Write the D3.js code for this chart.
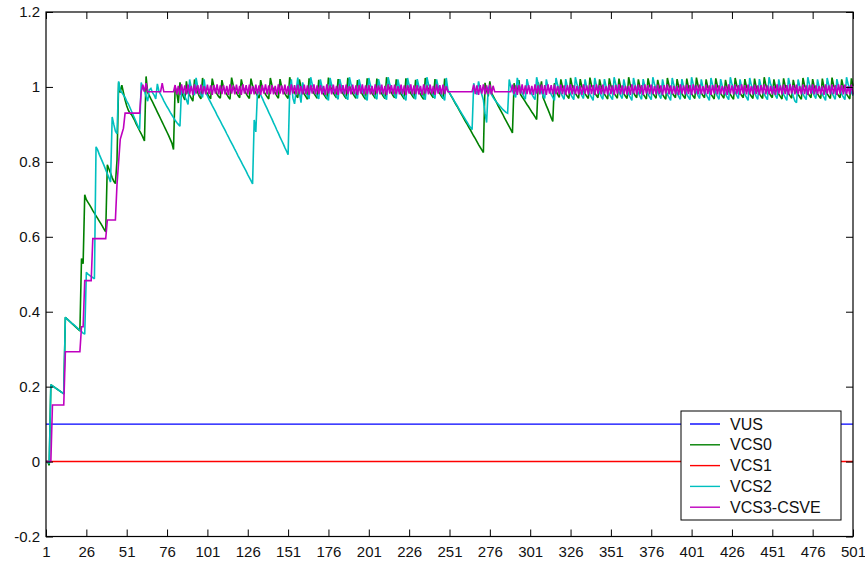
<!DOCTYPE html>
<html>
<head>
<meta charset="utf-8">
<script src="https://cdn.jsdelivr.net/npm/d3@7"></script>
<style>
  html, body { margin: 0; padding: 0; background: #fff; }
  svg text { font-family: "Liberation Sans", Arial, sans-serif; fill: #111; }
</style>
</head>
<body>
<svg id="chart" width="865" height="563"></svg>
<script>
// ---- data -------------------------------------------------------------
const seriesNames  = ["VUS", "VCS0", "VCS1", "VCS2", "VCS3-CSVE"];
const seriesColors = ["#0000ff", "#008000", "#ff0000", "#00bfbf", "#bf00bf"];

const xTickValues = [1, 26, 51, 76, 101, 126, 151, 176, 201, 226, 251, 276, 301, 326, 351, 376, 401, 426, 451, 476, 501];
const xTickLabels = ["1", "26", "51", "76", "101", "126", "151", "176", "201", "226", "251", "276", "301", "326", "351", "376", "401", "426", "451", "476", "501"];
const yTickValues = [-0.2, 0, 0.2, 0.4, 0.6, 0.8, 1, 1.2];
const yTickLabels = ["-0.2", "0", "0.2", "0.4", "0.6", "0.8", "1", "1.2"];

// constant series: first and last sample
const vusX  = [1, 501];
const vusY  = [0.1, 0.1];
const vcs1X = [1, 501];
const vcs1Y = [0, 0];

// sampled series, one value per sample index 1..501
const vcs0 = [
  0, 0, -0.01, 0.205, 0.202, 0.199, 0.196, 0.193, 0.19, 0.187,
  0.184, 0.181, 0.385, 0.381, 0.377, 0.373, 0.369, 0.365, 0.361, 0.357,
  0.353, 0.349, 0.542, 0.528, 0.712, 0.699, 0.692, 0.685, 0.678, 0.67,
  0.663, 0.656, 0.649, 0.642, 0.635, 0.628, 0.62, 0.613, 0.792, 0.781,
  0.77, 0.758, 0.748, 0.742, 0.805, 1.012, 0.985, 1.005, 0.985, 0.965,
  0.95, 0.938, 0.93, 0.926, 0.918, 0.91, 0.9, 0.892, 0.883, 0.875,
  0.866, 0.856, 1.028, 0.985, 0.977, 0.968, 0.96, 0.951, 0.942, 0.933,
  0.924, 0.915, 0.906, 0.897, 0.888, 0.879, 0.87, 0.86, 0.85, 0.833,
  1.0, 0.985, 0.957, 1.012, 0.99, 0.975, 0.965, 1.015, 0.984, 0.978,
  0.97, 0.962, 1.02, 0.998, 0.985, 0.975, 0.968, 1.024, 1.0, 0.99,
  0.982, 0.975, 0.968, 1.022, 1.002, 0.99, 0.981, 0.974, 0.97, 1.018,
  0.998, 0.988, 0.98, 0.973, 0.967, 1.025, 1.004, 0.992, 0.984, 0.977,
  0.971, 1.02, 1.0, 0.99, 0.982, 0.975, 0.969, 1.022, 1.003, 0.993,
  0.984, 0.977, 0.97, 1.018, 0.998, 0.988, 0.98, 0.974, 0.968, 1.024,
  1.004, 0.992, 0.984, 0.976, 0.97, 1.021, 1.0, 0.99, 0.982, 0.975,
  0.969, 1.026, 1.005, 0.993, 0.985, 0.977, 0.971, 1.02, 1.0, 0.99,
  0.981, 0.974, 0.967, 1.023, 1.003, 0.992, 0.983, 0.976, 0.97, 1.019,
  0.999, 0.989, 0.981, 0.974, 0.968, 1.025, 1.004, 0.993, 0.984, 0.977,
  0.971, 1.021, 1.001, 0.99, 0.982, 0.975, 0.969, 1.024, 1.003, 0.992,
  0.983, 0.976, 0.97, 1.018, 0.999, 0.989, 0.98, 0.973, 0.967, 1.023,
  1.002, 0.991, 0.983, 0.976, 0.97, 1.022, 1.001, 0.99, 0.982, 0.975,
  0.969, 1.026, 1.005, 0.993, 0.985, 0.977, 0.971, 1.02, 1.0, 0.99,
  0.981, 0.974, 0.968, 1.023, 1.003, 0.992, 0.983, 0.976, 0.97, 1.019,
  0.999, 0.988, 0.98, 0.973, 0.967, 1.024, 1.004, 0.993, 0.984, 0.977,
  0.971, 1.021, 1.001, 0.99, 0.982, 0.975, 0.969, 1.022, 1.0, 0.99,
  0.984, 0.976, 0.969, 0.961, 0.953, 0.946, 0.938, 0.93, 0.923, 0.915,
  0.907, 0.9, 0.892, 0.885, 0.877, 0.869, 0.862, 0.854, 0.846, 0.839,
  0.832, 0.825, 1.011, 0.99, 0.975, 1.015, 0.984, 0.976, 0.968, 0.96,
  0.951, 0.943, 0.935, 0.927, 0.918, 0.91, 0.902, 0.894, 0.886, 0.877,
  1.01, 0.99, 0.985, 1.018, 0.98, 0.973, 0.967, 0.96, 0.953, 0.947,
  0.94, 0.933, 0.927, 0.92, 0.913, 1.012, 0.99, 1.015, 0.971, 0.961,
  0.95, 0.94, 0.929, 0.918, 0.908, 1.01, 0.99, 0.98, 0.972, 1.02,
  1.0, 0.99, 0.982, 0.975, 0.969, 1.024, 1.003, 0.992, 0.983, 0.976,
  0.97, 1.021, 1.001, 0.99, 0.982, 0.975, 0.969, 1.025, 1.004, 0.993,
  0.984, 0.977, 0.971, 1.02, 1.0, 0.99, 0.981, 0.974, 0.968, 1.023,
  1.003, 0.992, 0.983, 0.976, 0.97, 1.022, 1.001, 0.99, 0.982, 0.975,
  0.969, 1.026, 1.005, 0.993, 0.985, 0.977, 0.971, 1.02, 1.0, 0.99,
  0.981, 0.974, 0.968, 1.023, 1.003, 0.992, 0.983, 0.976, 0.97, 1.019,
  0.999, 0.988, 0.98, 0.973, 0.967, 1.024, 1.004, 0.993, 0.984, 0.977,
  0.971, 1.021, 1.001, 0.99, 0.982, 0.975, 0.969, 1.022, 1.0, 0.99,
  0.982, 0.975, 0.969, 1.025, 1.004, 0.993, 0.984, 0.977, 0.971, 1.02,
  1.0, 0.99, 0.981, 0.974, 0.968, 1.023, 1.003, 0.992, 0.983, 0.976,
  0.97, 1.019, 0.999, 0.988, 0.98, 0.973, 0.967, 1.024, 1.004, 0.993,
  0.984, 0.977, 0.971, 1.021, 1.001, 0.99, 0.982, 0.975, 0.969, 1.022,
  1.0, 0.99, 0.982, 0.975, 0.969, 1.026, 1.005, 0.993, 0.985, 0.977,
  0.971, 1.02, 1.0, 0.99, 0.981, 0.974, 0.968, 1.023, 1.003, 0.992,
  0.983, 0.976, 0.97, 1.019, 0.999, 0.988, 0.98, 0.973, 0.967, 1.024,
  1.004, 0.993, 0.984, 0.977, 0.971, 1.021, 1.001, 0.99, 0.982, 0.975,
  0.969, 1.022, 1.0, 0.99, 0.982, 0.975, 0.969, 1.025, 1.004, 0.993,
  0.984, 0.977, 0.971, 1.02, 1.0, 0.99, 0.981, 0.974, 0.968, 1.023,
  1.003
];

const vcs2 = [
  0, 0, -0.005, 0.205, 0.202, 0.199, 0.196, 0.193, 0.19, 0.187,
  0.184, 0.181, 0.385, 0.381, 0.377, 0.373, 0.369, 0.366, 0.362, 0.358,
  0.354, 0.35, 0.347, 0.343, 0.34, 0.505, 0.5, 0.497, 0.494, 0.491,
  0.488, 0.84, 0.832, 0.82, 0.81, 0.8, 0.79, 0.779, 0.768, 0.757,
  0.746, 0.92, 0.9, 0.882, 0.875, 1.015, 0.99, 0.985, 0.978, 0.972,
  0.962, 0.955, 0.945, 0.935, 0.925, 0.915, 0.905, 0.895, 0.886, 1.012,
  0.995, 0.99, 0.975, 0.962, 0.992, 0.996, 0.985, 0.978, 0.968, 1.008,
  0.988, 0.98, 0.972, 0.963, 0.955, 0.947, 0.94, 0.932, 0.925, 0.918,
  0.911, 0.905, 0.9, 0.895, 1.0, 0.985, 0.975, 0.965, 0.953, 1.02,
  0.998, 0.988, 0.978, 1.024, 1.0, 0.99, 0.98, 0.972, 1.02, 0.984,
  0.976, 0.967, 0.959, 0.95, 0.942, 0.934, 0.925, 0.917, 0.909, 0.9,
  0.892, 0.884, 0.875, 0.867, 0.858, 0.85, 0.842, 0.833, 0.825, 0.816,
  0.808, 0.8, 0.791, 0.783, 0.775, 0.766, 0.758, 0.75, 0.741, 0.912,
  0.88, 0.985, 0.988, 0.979, 0.97, 0.96, 0.951, 0.942, 0.932, 0.923,
  0.914, 0.904, 0.895, 0.885, 0.876, 0.866, 0.857, 0.848, 0.838, 0.829,
  0.819, 0.99, 1.02, 0.97, 0.955, 0.99, 1.025, 0.985, 0.958, 1.012,
  0.995, 0.985, 0.976, 0.968, 1.026, 1.006, 0.995, 0.985, 0.976, 0.968,
  1.02, 1.0, 0.99, 0.98, 0.972, 0.964, 1.024, 1.005, 0.994, 0.984,
  0.975, 0.967, 1.021, 1.002, 0.991, 0.981, 0.973, 0.966, 1.026, 1.007,
  0.996, 0.986, 0.977, 0.969, 1.02, 1.0, 0.99, 0.98, 0.972, 0.964,
  1.024, 1.005, 0.994, 0.984, 0.975, 0.967, 1.021, 1.002, 0.991, 0.981,
  0.973, 0.966, 1.026, 1.007, 0.996, 0.986, 0.977, 0.969, 1.02, 1.0,
  0.99, 0.98, 0.972, 0.964, 1.024, 1.005, 0.994, 0.984, 0.975, 0.967,
  1.021, 1.002, 0.991, 0.981, 0.973, 0.966, 1.026, 1.007, 0.996, 0.986,
  0.977, 0.969, 1.02, 1.0, 0.99, 0.98, 0.972, 0.964, 1.024, 0.992,
  0.984, 0.977, 0.97, 0.962, 0.955, 0.948, 0.94, 0.933, 0.926, 0.919,
  0.912, 0.905, 0.898, 0.892, 0.886, 1.01, 0.99, 0.98, 1.015, 0.995,
  0.98, 0.965, 0.93, 0.905, 1.0, 0.99, 0.98, 0.972, 0.966, 0.96,
  0.955, 0.95, 0.945, 0.94, 0.936, 0.932, 0.93, 1.02, 1.0, 0.99,
  0.98, 0.972, 1.024, 1.005, 0.994, 0.984, 0.975, 0.967, 1.021, 1.002,
  0.991, 0.981, 0.973, 0.966, 1.026, 1.007, 0.996, 0.986, 0.977, 0.969,
  1.02, 1.0, 0.99, 0.98, 0.972, 0.964, 1.024, 1.005, 0.994, 0.984,
  0.975, 0.967, 1.021, 1.002, 0.991, 0.981, 0.973, 0.966, 1.026, 1.007,
  0.996, 0.986, 0.977, 0.969, 1.02, 1.0, 0.99, 0.98, 0.972, 0.964,
  1.024, 1.005, 0.994, 0.984, 0.975, 0.967, 1.021, 1.002, 0.991, 0.981,
  0.973, 0.966, 1.026, 1.007, 0.996, 0.986, 0.977, 0.969, 1.02, 1.0,
  0.99, 0.98, 0.972, 0.964, 1.024, 1.005, 0.994, 0.984, 0.975, 0.967,
  1.021, 1.002, 0.991, 0.981, 0.973, 0.966, 1.026, 1.007, 0.996, 0.986,
  0.977, 0.969, 1.02, 1.0, 0.99, 0.98, 0.972, 0.964, 1.024, 1.005,
  0.994, 0.984, 0.975, 0.967, 1.021, 1.002, 0.991, 0.981, 0.973, 0.966,
  1.026, 1.007, 0.996, 0.986, 0.977, 0.969, 1.02, 1.0, 0.99, 0.98,
  0.972, 0.964, 1.024, 1.005, 0.994, 0.984, 0.975, 0.967, 1.021, 1.002,
  0.991, 0.981, 0.973, 0.966, 1.026, 1.007, 0.996, 0.986, 0.977, 0.969,
  1.02, 1.0, 0.99, 0.98, 0.972, 0.964, 1.024, 1.005, 0.994, 0.984,
  0.975, 0.967, 1.021, 1.002, 0.991, 0.981, 0.973, 0.966, 1.026, 1.007,
  0.996, 0.986, 0.977, 0.969, 1.02, 1.0, 0.99, 0.98, 0.972, 0.964,
  1.024, 1.005, 0.99, 0.975, 0.962, 0.958, 1.02, 1.002, 0.991, 0.981,
  0.973, 0.966, 1.026, 1.007, 0.996, 0.986, 0.977, 0.969, 1.02, 1.0,
  0.99, 0.98, 0.972, 0.964, 1.024, 1.005, 0.994, 0.984, 0.975, 0.967,
  1.021, 1.002, 0.991, 0.981, 0.973, 0.966, 1.026, 1.007, 0.996, 0.986,
  0.977
];

const vcs3 = [
  0, 0, 0, 0, 0.151, 0.151, 0.151, 0.151, 0.151, 0.151,
  0.151, 0.151, 0.293, 0.293, 0.293, 0.293, 0.293, 0.293, 0.293, 0.293,
  0.293, 0.293, 0.36, 0.36, 0.483, 0.483, 0.483, 0.483, 0.483, 0.595,
  0.595, 0.595, 0.595, 0.595, 0.595, 0.595, 0.595, 0.595, 0.645, 0.645,
  0.645, 0.645, 0.645, 0.645, 0.74, 0.8, 0.86, 0.875, 0.89, 0.93,
  0.93, 0.93, 0.93, 0.93, 0.93, 0.93, 0.93, 0.93, 0.93, 0.987,
  1.006, 0.987, 1.01, 0.987, 0.987, 0.987, 0.987, 0.987, 0.987, 0.987,
  0.987, 0.987, 1.01, 0.987, 0.987, 0.987, 0.987, 0.987, 0.987, 0.987,
  1.005, 0.98, 1.003, 0.979, 1.007, 0.982, 1.004, 0.98, 1.006, 0.981,
  1.003, 0.979, 1.007, 0.982, 1.005, 0.98, 1.006, 0.981, 1.002, 0.98,
  1.006, 0.981, 1.004, 0.979, 1.005, 0.982, 1.007, 0.98, 1.004, 0.981,
  1.005, 0.98, 1.003, 0.979, 1.007, 0.982, 1.004, 0.98, 1.006, 0.981,
  1.003, 0.979, 1.007, 0.982, 1.005, 0.98, 1.006, 0.981, 1.002, 0.98,
  1.006, 0.981, 1.004, 0.979, 1.005, 0.982, 1.007, 0.98, 1.004, 0.981,
  1.005, 0.98, 1.003, 0.979, 1.007, 0.982, 1.004, 0.98, 1.006, 0.981,
  1.003, 0.979, 1.007, 0.982, 1.005, 0.98, 1.006, 0.981, 1.002, 0.98,
  1.006, 0.981, 1.004, 0.979, 1.005, 0.982, 1.007, 0.98, 1.004, 0.981,
  1.005, 0.98, 1.003, 0.979, 1.007, 0.982, 1.004, 0.98, 1.006, 0.981,
  1.003, 0.979, 1.007, 0.982, 1.005, 0.98, 1.006, 0.981, 1.002, 0.98,
  1.006, 0.981, 1.004, 0.979, 1.005, 0.982, 1.007, 0.98, 1.004, 0.981,
  1.005, 0.98, 1.003, 0.979, 1.007, 0.982, 1.004, 0.98, 1.006, 0.981,
  1.003, 0.979, 1.007, 0.982, 1.005, 0.98, 1.006, 0.981, 1.002, 0.98,
  1.006, 0.981, 1.004, 0.979, 1.005, 0.982, 1.007, 0.98, 1.004, 0.981,
  1.005, 0.98, 1.003, 0.979, 1.007, 0.982, 1.004, 0.98, 1.006, 0.981,
  1.003, 0.979, 1.007, 0.982, 1.005, 0.98, 1.006, 0.981, 1.002, 0.987,
  0.987, 0.987, 0.987, 0.987, 0.987, 0.987, 0.987, 0.987, 0.987, 0.987,
  0.987, 0.987, 0.987, 0.987, 0.987, 1.006, 0.981, 1.004, 0.979, 1.005,
  0.982, 1.007, 0.98, 1.004, 0.981, 1.006, 0.98, 1.003, 0.987, 0.987,
  0.987, 0.987, 0.987, 0.987, 0.987, 0.987, 0.987, 0.987, 0.987, 1.006,
  0.981, 1.004, 0.979, 1.005, 0.982, 1.007, 0.98, 1.004, 0.981, 1.005,
  0.98, 1.003, 0.979, 1.007, 0.982, 1.004, 0.98, 1.006, 0.981, 1.005,
  0.979, 1.007, 0.982, 1.005, 0.98, 1.006, 0.981, 1.002, 0.98, 1.006,
  0.981, 1.004, 0.979, 1.005, 0.982, 1.007, 0.98, 1.004, 0.981, 1.003,
  0.98, 1.003, 0.979, 1.007, 0.982, 1.004, 0.98, 1.006, 0.981, 1.005,
  0.979, 1.007, 0.982, 1.005, 0.98, 1.006, 0.981, 1.002, 0.98, 1.006,
  0.981, 1.004, 0.979, 1.005, 0.982, 1.007, 0.98, 1.004, 0.981, 1.003,
  0.98, 1.003, 0.979, 1.007, 0.982, 1.004, 0.98, 1.006, 0.981, 1.005,
  0.979, 1.007, 0.982, 1.005, 0.98, 1.006, 0.981, 1.002, 0.98, 1.006,
  0.981, 1.004, 0.979, 1.005, 0.982, 1.007, 0.98, 1.004, 0.981, 1.003,
  0.98, 1.003, 0.979, 1.007, 0.982, 1.004, 0.98, 1.006, 0.981, 1.005,
  0.979, 1.007, 0.982, 1.005, 0.98, 1.006, 0.981, 1.002, 0.98, 1.006,
  0.981, 1.004, 0.979, 1.005, 0.982, 1.007, 0.98, 1.004, 0.981, 1.003,
  0.98, 1.003, 0.979, 1.007, 0.982, 1.004, 0.98, 1.006, 0.981, 1.005,
  0.979, 1.007, 0.982, 1.005, 0.98, 1.006, 0.981, 1.002, 0.98, 1.006,
  0.981, 1.004, 0.979, 1.005, 0.982, 1.007, 0.98, 1.004, 0.981, 1.003,
  0.98, 1.003, 0.979, 1.007, 0.982, 1.004, 0.98, 1.006, 0.981, 1.005,
  0.979, 1.007, 0.982, 1.005, 0.98, 1.006, 0.981, 1.002, 0.98, 1.006,
  0.981, 1.004, 0.979, 1.005, 0.982, 1.007, 0.98, 1.004, 0.981, 1.003,
  0.98, 1.003, 0.979, 1.007, 0.982, 1.004, 0.98, 1.006, 0.981, 1.005,
  0.979, 1.007, 0.982, 1.005, 0.98, 1.006, 0.981, 1.002, 0.98, 1.006,
  0.98
];

// ---- layout -----------------------------------------------------------
const W = 865, H = 563;
const plot = { left: 46, right: 853, top: 12, bottom: 536.5 };
const tickLen = 7;
const lineWidth = 1.6;

const svg = d3.select("#chart");
svg.append("rect").attr("width", W).attr("height", H).attr("fill", "#fff");

const x = d3.scaleLinear().domain([1, 501]).range([plot.left, plot.right]);
const y = d3.scaleLinear().domain([-0.2, 1.2]).range([plot.bottom, plot.top]);

// ---- series -----------------------------------------------------------
const sampled = arr => arr.map((v, i) => [i + 1, v]);
const paired = (xs, ys) => xs.map((v, i) => [v, ys[i]]);

const seriesData = [
  paired(vusX, vusY),
  sampled(vcs0),
  paired(vcs1X, vcs1Y),
  sampled(vcs2),
  sampled(vcs3)
];

const line = d3.line().x(d => x(d[0])).y(d => y(d[1]));

const gLines = svg.append("g");
seriesData.forEach((data, k) => {
  gLines.append("path")
    .datum(data)
    .attr("fill", "none")
    .attr("stroke", seriesColors[k])
    .attr("stroke-width", k === 0 || k === 2 ? 1.4 : lineWidth)
    .attr("stroke-linejoin", "miter")
    .attr("stroke-miterlimit", 2)
    .attr("d", line);
});

// ---- axes (ticks pointing inward, box all round) ----------------------
const axisStyle = g => {
  g.select(".domain").remove();
  g.selectAll(".tick line").attr("stroke", "#000");
  g.selectAll(".tick text").attr("font-size", 15).attr("fill", "#111");
};

svg.append("g")
  .attr("transform", `translate(0,${plot.bottom})`)
  .call(d3.axisBottom(x).tickValues(xTickValues)
    .tickFormat((d, i) => xTickLabels[i]).tickSize(-tickLen).tickPadding(10))
  .call(axisStyle);

svg.append("g")
  .attr("transform", `translate(0,${plot.top})`)
  .call(d3.axisTop(x).tickValues(xTickValues).tickFormat("").tickSize(-tickLen))
  .call(axisStyle);

svg.append("g")
  .attr("transform", `translate(${plot.left},0)`)
  .call(d3.axisLeft(y).tickValues(yTickValues)
    .tickFormat((d, i) => yTickLabels[i]).tickSize(-tickLen).tickPadding(6))
  .call(axisStyle);

svg.append("g")
  .attr("transform", `translate(${plot.right},0)`)
  .call(d3.axisRight(y).tickValues(yTickValues).tickFormat("").tickSize(-tickLen))
  .call(axisStyle);

svg.append("rect")
  .attr("x", plot.left).attr("y", plot.top)
  .attr("width", plot.right - plot.left).attr("height", plot.bottom - plot.top)
  .attr("fill", "none").attr("stroke", "#000").attr("stroke-width", 1.2);

// ---- legend -----------------------------------------------------------
const legend = svg.append("g").attr("transform", "translate(681,411)");
legend.append("rect")
  .attr("width", 160).attr("height", 109)
  .attr("fill", "#fff").attr("stroke", "#000").attr("stroke-width", 1);

seriesNames.forEach((name, k) => {
  const cy = 13 + k * 20.8;
  legend.append("line")
    .attr("x1", 9).attr("x2", 39).attr("y1", cy).attr("y2", cy)
    .attr("stroke", seriesColors[k]).attr("stroke-width", 1.4);
  legend.append("text")
    .attr("x", 49).attr("y", cy).attr("dy", "0.35em")
    .attr("font-size", 16)
    .text(name);
});
</script>
</body>
</html>
